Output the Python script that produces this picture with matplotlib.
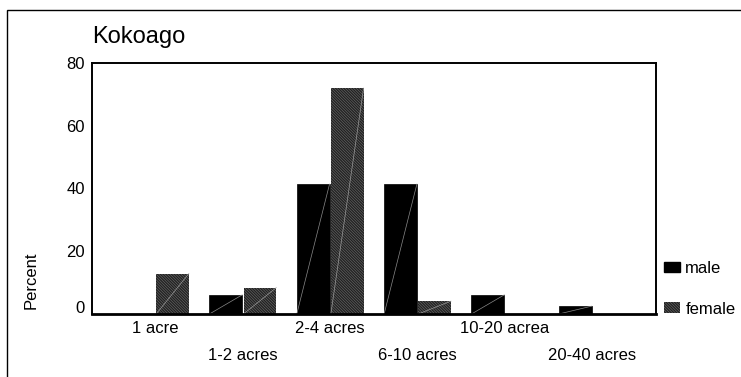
import numpy as np
import matplotlib
matplotlib.use("Agg")
import matplotlib.pyplot as plt
import matplotlib.transforms as mtransforms
from matplotlib.patches import Rectangle, Patch

plt.rcParams['font.family'] = ['Liberation Sans', 'DejaVu Sans']
plt.rcParams['hatch.linewidth'] = 1.0
plt.rcParams['hatch.color'] = 'black'

categories = ["1 acre", "1-2 acres", "2-4 acres", "6-10 acres", "10-20 acrea", "20-40 acres"]
male = [0, 6.1, 41.4, 41.4, 6.1, 2.5]
female = [12.9, 8.4, 72.0, 4.1, 0, 0]

fig = plt.figure(figsize=[7.41, 3.77], dpi=100)
ax = fig.add_axes([92/741, 1-314/377, (656-92)/741, (314-63)/377])

x = np.arange(len(categories))
w = 0.375
off = 0.195
hatch = "\\" * 12
ax.bar(x - off, male, width=w, color="black", edgecolor="black", linewidth=0.5, label="male")
ax.bar(x + off, female, width=w, color="#6e6e6e", edgecolor="#222222", hatch=hatch,
       linewidth=0.0, label="female")
# faint diagonal streak the original renderer leaves inside each bar
for i in range(len(categories)):
    if male[i] > 0:
        ax.plot([x[i] - off - w/2, x[i] - off + w/2], [0, male[i]], color="#8a8a8a", lw=0.5)
    if female[i] > 0:
        ax.plot([x[i] + off - w/2, x[i] + off + w/2], [0, female[i]], color="#9a9a9a", lw=0.5)

ax.set_xlim(-0.727, 5.73)
ax.set_ylim(0, 80)
ax.set_yticks([0, 20, 40, 60, 80])
ax.tick_params(axis="y", length=0, labelsize=12, pad=5)
ax.tick_params(axis="x", length=0)
ax.set_xticks(x)
ax.set_xticklabels(["" for c in categories])
# the zero label sits a little above the baseline in the original
zero_lab = ax.get_yticklabels()[0]
zero_lab.set_transform(zero_lab.get_transform() + mtransforms.ScaledTranslation(0, 7/100, fig.dpi_scale_trans))
for i, c in enumerate(categories):
    yy = -0.056 if i % 2 == 0 else -0.167
    ax.text(i, yy, c, transform=ax.get_xaxis_transform(), ha="center", va="center", fontsize=12)

for s in ax.spines.values():
    s.set_linewidth(1.4)
ax.spines["bottom"].set_linewidth(2)

ax.set_ylabel("Percent", fontsize=12)
ax.yaxis.set_label_coords(-0.094, 0.135)
ax.text(0.0, 1 + 26/251, "Kokoago", transform=ax.transAxes, ha="left", va="center", fontsize=17)

handles = [Patch(facecolor="black", edgecolor="black", label="male"),
           Patch(facecolor="#6e6e6e", edgecolor="#222222", hatch=hatch, linewidth=0, label="female")]
fig.legend(handles=handles, loc="upper left", bbox_to_anchor=(657/741, 1-254/377), frameon=False,
           fontsize=12, handlelength=1.0, handleheight=0.6, handletextpad=0.3, labelspacing=1.55,
           borderaxespad=0)

fig.patches.append(Rectangle((7/741, -0.1), 1.1, 1.1 - 10/377, transform=fig.transFigure,
                             fill=False, edgecolor="black", linewidth=1.0))

fig.savefig("out.png", dpi=100)
